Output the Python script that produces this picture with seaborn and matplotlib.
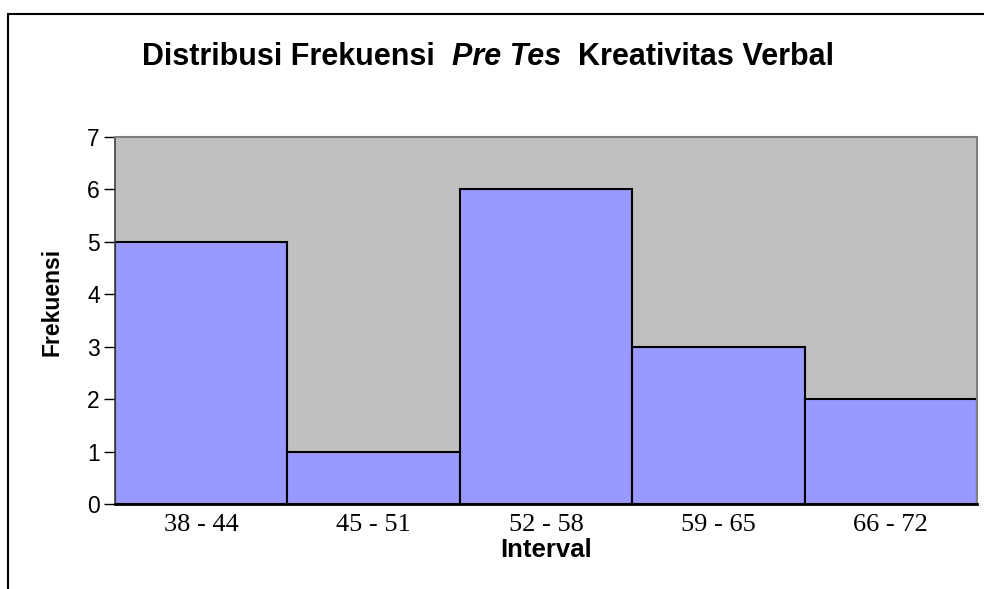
import matplotlib
matplotlib.use('Agg')
import matplotlib.pyplot as plt
from matplotlib.lines import Line2D
import seaborn as sns
import pandas as pd

# ---- data ----
categories = ['38 - 44', '45 - 51', '52 - 58', '59 - 65', '66 - 72']
frekuensi = [5, 1, 6, 3, 2]
y_ticks = [0, 1, 2, 3, 4, 5, 6, 7]
title_parts = ['Distribusi Frekuensi  ', 'Pre Tes', '  Kreativitas Verbal']
x_label = 'Interval'
y_label = 'Frekuensi'

sns.set_theme(style='white')
plt.rcParams['font.family'] = ['Liberation Sans', 'DejaVu Sans']

W, H = 984, 589
fig = plt.figure(figsize=(W / 100, H / 100), dpi=100)
fig.patch.set_facecolor('white')

ax = fig.add_axes([115 / W, 1 - 504 / H, 862 / W, 367 / H])
df = pd.DataFrame({'Interval': categories, 'Frekuensi': frekuensi})
sns.barplot(data=df, x='Interval', y='Frekuensi', ax=ax, width=1.0,
            color='#9999FF', saturation=1, edgecolor='black', linewidth=1.5)

ax.set_facecolor('#C0C0C0')
ax.set_xlim(-0.5, len(categories) - 0.5)
ax.set_ylim(0, 7)
ax.set_yticks(y_ticks)
ax.set_yticklabels([str(v) for v in y_ticks])

ax.tick_params(axis='y', direction='out', length=8, width=1, color='black',
               labelsize=16.5, pad=3, left=True, labelcolor='black')
ax.tick_params(axis='x', length=0, pad=7, labelcolor='black')
for lbl in ax.get_xticklabels():
    lbl.set_fontfamily(['Liberation Serif', 'DejaVu Serif'])
    lbl.set_fontsize(19)

for s in ['top', 'right']:
    ax.spines[s].set_color('#808080')
    ax.spines[s].set_linewidth(1.5)
ax.spines['left'].set_color('#404040')
ax.spines['left'].set_linewidth(1.2)
ax.spines['bottom'].set_color('black')
ax.spines['bottom'].set_linewidth(2)

ax.set_xlabel(x_label, fontsize=18.5, fontweight='bold', color='black')
ax.set_ylabel(y_label, fontsize=16.5, fontweight='bold', color='black')
ax.xaxis.label.set_va('baseline')
ax.xaxis.set_label_coords(0.5, -(557 - 504) / 367)
ax.yaxis.label.set_va('center')
ax.yaxis.set_label_coords((52 - 115) / 862, (504 - 302) / 367)

# ---- title with italic middle part ----
fs_title = 22
base_y = 1 - 65 / H
styles = ['normal', 'italic', 'normal']
texts = []
for part, st in zip(title_parts, styles):
    t = fig.text(0, base_y, part, fontsize=fs_title, fontweight='bold',
                 fontstyle=st, va='baseline', ha='left', color='black')
    texts.append(t)
fig.canvas.draw()
r = fig.canvas.get_renderer()
widths = [t.get_window_extent(renderer=r).width for t in texts]
total = sum(widths)
x0 = 488 - total / 2
for t, w in zip(texts, widths):
    t.set_x(x0 / W)
    x0 += w

# ---- outer chart frame (left and top visible) ----
fig.add_artist(Line2D([8 / W, 8 / W], [0, 1 - 14 / H], color='black', lw=1.5,
                      transform=fig.transFigure))
fig.add_artist(Line2D([8 / W, 1], [1 - 14 / H, 1 - 14 / H], color='black', lw=1.5,
                      transform=fig.transFigure))

fig.savefig('out.png', dpi=100)
